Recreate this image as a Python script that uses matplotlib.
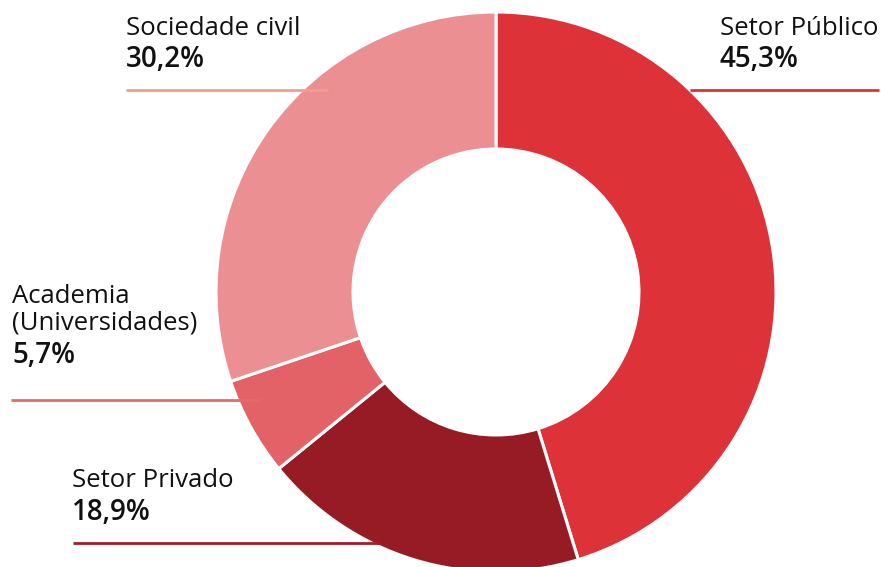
import matplotlib.pyplot as plt

# data
labels = [['Setor Público'], ['Setor Privado'], ['Academia', '(Universidades)'], ['Sociedade civil']]
values = [45.3, 18.9, 5.7, 30.2]
pct_text = ['45,3%', '18,9%', '5,7%', '30,2%']
colors = ['#DC3238', '#971B25', '#E36267', '#EB8F93']
line_colors = ['#DC3238', '#A51C28', '#E36A66', '#EFA08F']

W, H = 881, 567
fig = plt.figure(figsize=(W / 100, H / 100), dpi=100)
ax = fig.add_axes([0, 0, 1, 1])

cx, cy, r = 496, H - 292, 280
ax.pie(values, colors=colors, startangle=90, counterclock=False,
       center=(cx, cy), radius=r, frame=True,
       wedgeprops=dict(width=137, edgecolor='white', linewidth=2.2))
ax.set_xlim(0, W)
ax.set_ylim(0, H)
ax.set_aspect('equal')
ax.axis('off')

# label baselines (pixel coords from top-left)
lab_pos = [(720, 35), (72, 487), (12, 303), (126, 35)]
pct_base = [67, 520, 363, 67]
line_pos = [(690, 879, 90), (73, 380, 543), (11, 260, 400), (126, 328, 90)]

fam = ['Open Sans', 'DejaVu Sans']
for i in range(len(labels)):
    x, y = lab_pos[i]
    for j, s in enumerate(labels[i]):
        ax.text(x, H - y - 26 * j, s, fontsize=18.5, family=fam, color='#111111',
                va='baseline', ha='left')
    ax.text(x, H - pct_base[i], pct_text[i], fontsize=20, family=fam,
            fontweight='semibold', color='#111111', va='baseline', ha='left')
    x0, x1, ly = line_pos[i]
    ax.plot([x0, x1], [H - ly, H - ly], color=line_colors[i], lw=2, zorder=5,
            solid_capstyle='butt')

plt.savefig('out.png', dpi=100)
